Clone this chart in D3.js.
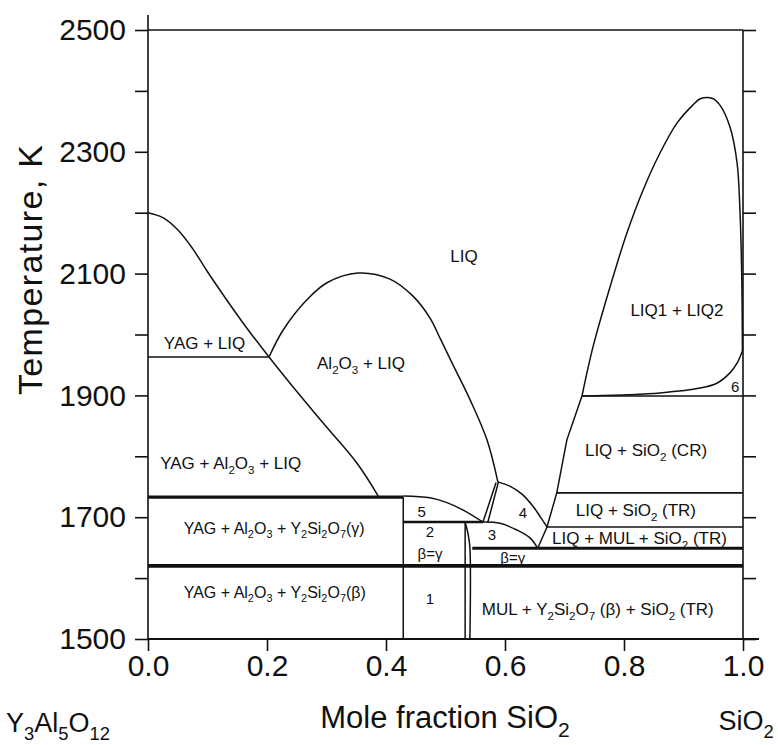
<!DOCTYPE html>
<html>
<head>
<meta charset="utf-8">
<script src="https://cdn.jsdelivr.net/npm/d3@7"></script>
<style>
  html, body { margin: 0; padding: 0; background: #fff; }
  svg { display: block; font-family: "Liberation Sans", Arial, Helvetica, sans-serif; }
</style>
</head>
<body>
<svg id="chart" width="778" height="745"></svg>
<script>
// Y3Al5O12 – SiO2 phase diagram: composition (mole fraction SiO2) vs temperature (K)

// ---- tick values ----
const xTicks = [0, 0.2, 0.4, 0.6, 0.8, 1.0];
const yTicks = [1500, 1600, 1700, 1800, 1900, 2000, 2100, 2200, 2300, 2400, 2500];
const yLabelled = [1500, 1700, 1900, 2100, 2300, 2500];

// ---- phase boundaries, [mole fraction SiO2, T in K] ----
const yagLiquidus = [[0, 2200], [0.025, 2192], [0.05, 2172], [0.075, 2141], [0.1, 2103], [0.13, 2060],
  [0.165, 2012], [0.2034, 1963], [0.2387, 1920], [0.294, 1855], [0.351, 1789], [0.388, 1733]];
const aluminaLiquidus = [[0.2034, 1963], [0.2269, 2007], [0.267, 2057], [0.3008, 2085], [0.353, 2101],
  [0.4067, 2091], [0.4454, 2063], [0.474, 2027], [0.4908, 1994], [0.5126, 1950], [0.5412, 1893],
  [0.5697, 1827], [0.588, 1758]];
const field5Top = [[0.429, 1735], [0.474, 1732], [0.5025, 1724], [0.529, 1712], [0.563, 1692]];
const field3Top = [[0.563, 1692], [0.5916, 1690], [0.620, 1679], [0.642, 1666], [0.655, 1649]];
const field4Top = [[0.588, 1758], [0.608, 1751], [0.6286, 1738], [0.647, 1718], [0.6605, 1699], [0.6706, 1684]];
const mulliteLeft = [[0.585, 1757], [0.563, 1692]];
const mulliteRight = [[0.589, 1758], [0.571, 1691]];
const silicaLiquidus = [[0.7294, 1899], [0.704, 1827], [0.687, 1740], [0.6706, 1684], [0.655, 1649]];
const gapUpper = [[0.7294, 1899], [0.748, 1980], [0.7765, 2078], [0.805, 2167], [0.832, 2237], [0.8605, 2298],
  [0.889, 2347], [0.916, 2377], [0.928, 2387], [0.948, 2388], [0.961, 2377], [0.978, 2341], [0.990, 2282],
  [0.995, 2200], [0.998, 2090], [0.999, 1980], [0.999, 1973]];
const gapLower = [[0.999, 1973], [0.990, 1953], [0.978, 1937], [0.956, 1920], [0.928, 1912], [0.8605, 1904],
  [0.805, 1901], [0.7294, 1899]];
const y2si2o7Left = [[0.533, 1692], [0.533, 1500]];
const y2si2o7Right = [[0.533, 1692], [0.538, 1672], [0.541, 1650], [0.541, 1500]];
const field1Left = [[0.429, 1733], [0.429, 1500]];

// ---- isotherms ----
const isoT    = [1963,   1733,  1692,  1899,   1740,  1684,   1649,  1620];
const isoFrom = [0,      0,     0.429, 0.7294, 0.687, 0.6706, 0.545, 0];
const isoTo   = [0.2034, 0.429, 0.563, 1,      1,     1,      1,     1];
const isoWeight = [1.4, 3.2, 2.6, 1.6, 1.6, 1.6, 2.8, 3.6];

// ---- phase field names ----
const fieldNames = ["LIQ", "YAG + LIQ", "Al_2O_3 + LIQ", "YAG + Al_2O_3 + LIQ", "LIQ1 + LIQ2", "6",
  "LIQ + SiO_2 (CR)", "LIQ + SiO_2 (TR)", "LIQ + MUL + SiO_2 (TR)", "MUL + Y_2Si_2O_7 (β) + SiO_2 (TR)",
  "YAG + Al_2O_3 + Y_2Si_2O_7(γ)", "YAG + Al_2O_3 + Y_2Si_2O_7(β)", "1", "2", "β=γ", "5", "3", "4", "β=γ"];
const fieldX = [0.531, 0.095, 0.358, 0.139, 0.889, 0.987, 0.837, 0.820, 0.826, 0.756,
  0.212, 0.213, 0.474, 0.474, 0.474, 0.460, 0.578, 0.630, 0.613];
const fieldT = [2129, 1986, 1953, 1789, 2040, 1914, 1810, 1712, 1666, 1549,
  1682, 1577, 1567, 1676, 1640, 1710, 1671, 1707, 1633];
const fieldSize = [17, 17, 17, 17, 17, 15, 17, 17, 17, 17, 16, 16, 15, 15, 15, 15, 15, 15, 15];

const svg = d3.select("#chart");
const x = d3.scaleLinear().domain([0, 1]).range([148, 743]);
const y = d3.scaleLinear().domain([1500, 2500]).range([639, 30]);

const ink = "#111";
const smooth = d3.line().x(d => x(d[0])).y(d => y(d[1])).curve(d3.curveCatmullRom.alpha(0.5));
const straight = d3.line().x(d => x(d[0])).y(d => y(d[1]));

// frame
svg.append("line").attr("x1", x(0)).attr("x2", x(0)).attr("y1", y(2500) - 15).attr("y2", y(1500))
  .attr("stroke", ink).attr("stroke-width", 1.6);
svg.append("line").attr("x1", x(0)).attr("x2", x(1) + 16).attr("y1", y(1500)).attr("y2", y(1500))
  .attr("stroke", ink).attr("stroke-width", 1.8);
svg.append("line").attr("x1", x(0)).attr("x2", x(1)).attr("y1", y(2500)).attr("y2", y(2500))
  .attr("stroke", ink).attr("stroke-width", 1.6);
svg.append("line").attr("x1", x(1)).attr("x2", x(1)).attr("y1", y(2500)).attr("y2", y(1500))
  .attr("stroke", ink).attr("stroke-width", 1.6);

// axes
const axX = svg.append("g").attr("transform", `translate(0,${y(1500)})`)
  .call(d3.axisBottom(x).tickValues(xTicks).tickFormat(d3.format(".1f")).tickSize(12).tickPadding(4));
const axY = svg.append("g").attr("transform", `translate(${x(0)},0)`)
  .call(d3.axisLeft(y).tickValues(yTicks).tickFormat(d => yLabelled.includes(d) ? d : "").tickSize(13).tickPadding(9));
const axR = svg.append("g").attr("transform", `translate(${x(1)},0)`)
  .call(d3.axisRight(y).tickValues(yTicks).tickFormat("").tickSize(13));
[axX, axY, axR].forEach(g => {
  g.select(".domain").remove();
  g.selectAll(".tick line").attr("stroke", ink).attr("stroke-width", 1.6);
  g.selectAll("text").attr("fill", ink).attr("font-size", 30)
    .attr("font-family", "'Liberation Sans', Arial, sans-serif");
});

// boundaries
const curves = [yagLiquidus, aluminaLiquidus, field5Top, field3Top, field4Top, gapUpper, gapLower];
curves.forEach(c => svg.append("path").attr("d", smooth(c)).attr("fill", "none")
  .attr("stroke", ink).attr("stroke-width", 1.5));
[mulliteLeft, mulliteRight, silicaLiquidus, field1Left].forEach(c => svg.append("path")
  .attr("d", straight(c)).attr("fill", "none").attr("stroke", ink).attr("stroke-width", 1.5));
[y2si2o7Left, y2si2o7Right].forEach(c => svg.append("path").attr("d", smooth(c)).attr("fill", "none")
  .attr("stroke", ink).attr("stroke-width", 1.5));

isoT.forEach((t, i) => svg.append("line")
  .attr("x1", x(isoFrom[i])).attr("x2", x(isoTo[i])).attr("y1", y(t)).attr("y2", y(t))
  .attr("stroke", ink).attr("stroke-width", isoWeight[i]));

// text with chemical subscripts written as "_n"
function rich(g, str, fs) {
  const parts = str.split(/_(\d+)/);
  let shifted = false;
  parts.forEach((p, i) => {
    if (!p) return;
    const t = g.append("tspan").text(p);
    if (i % 2 === 1) {
      t.attr("font-size", fs * 0.68).attr("dy", fs * 0.28);
      shifted = true;
    } else if (shifted) {
      t.attr("dy", -fs * 0.28);
      shifted = false;
    }
  });
}

fieldNames.forEach((name, i) => {
  const t = svg.append("text").attr("x", x(fieldX[i])).attr("y", y(fieldT[i]) + fieldSize[i] * 0.36)
    .attr("text-anchor", "middle").attr("font-size", fieldSize[i]).attr("fill", ink);
  rich(t, name, fieldSize[i]);
});

// axis titles and end-member names
const t1 = svg.append("text").attr("x", 445).attr("y", 728).attr("text-anchor", "middle")
  .attr("font-size", 31).attr("fill", ink);
rich(t1, "Mole fraction SiO_2", 31);
const t2 = svg.append("text").attr("x", 58).attr("y", 732).attr("text-anchor", "middle")
  .attr("font-size", 27).attr("fill", ink);
rich(t2, "Y_3Al_5O_12", 27);
const t3 = svg.append("text").attr("x", 746).attr("y", 730).attr("text-anchor", "middle")
  .attr("font-size", 27).attr("fill", ink);
rich(t3, "SiO_2", 27);
svg.append("text").attr("transform", "translate(42,270) rotate(-90)").attr("text-anchor", "middle")
  .attr("font-size", 34).attr("textLength", 250).attr("lengthAdjust", "spacing")
  .attr("fill", ink).text("Temperature, K");
</script>
</body>
</html>
